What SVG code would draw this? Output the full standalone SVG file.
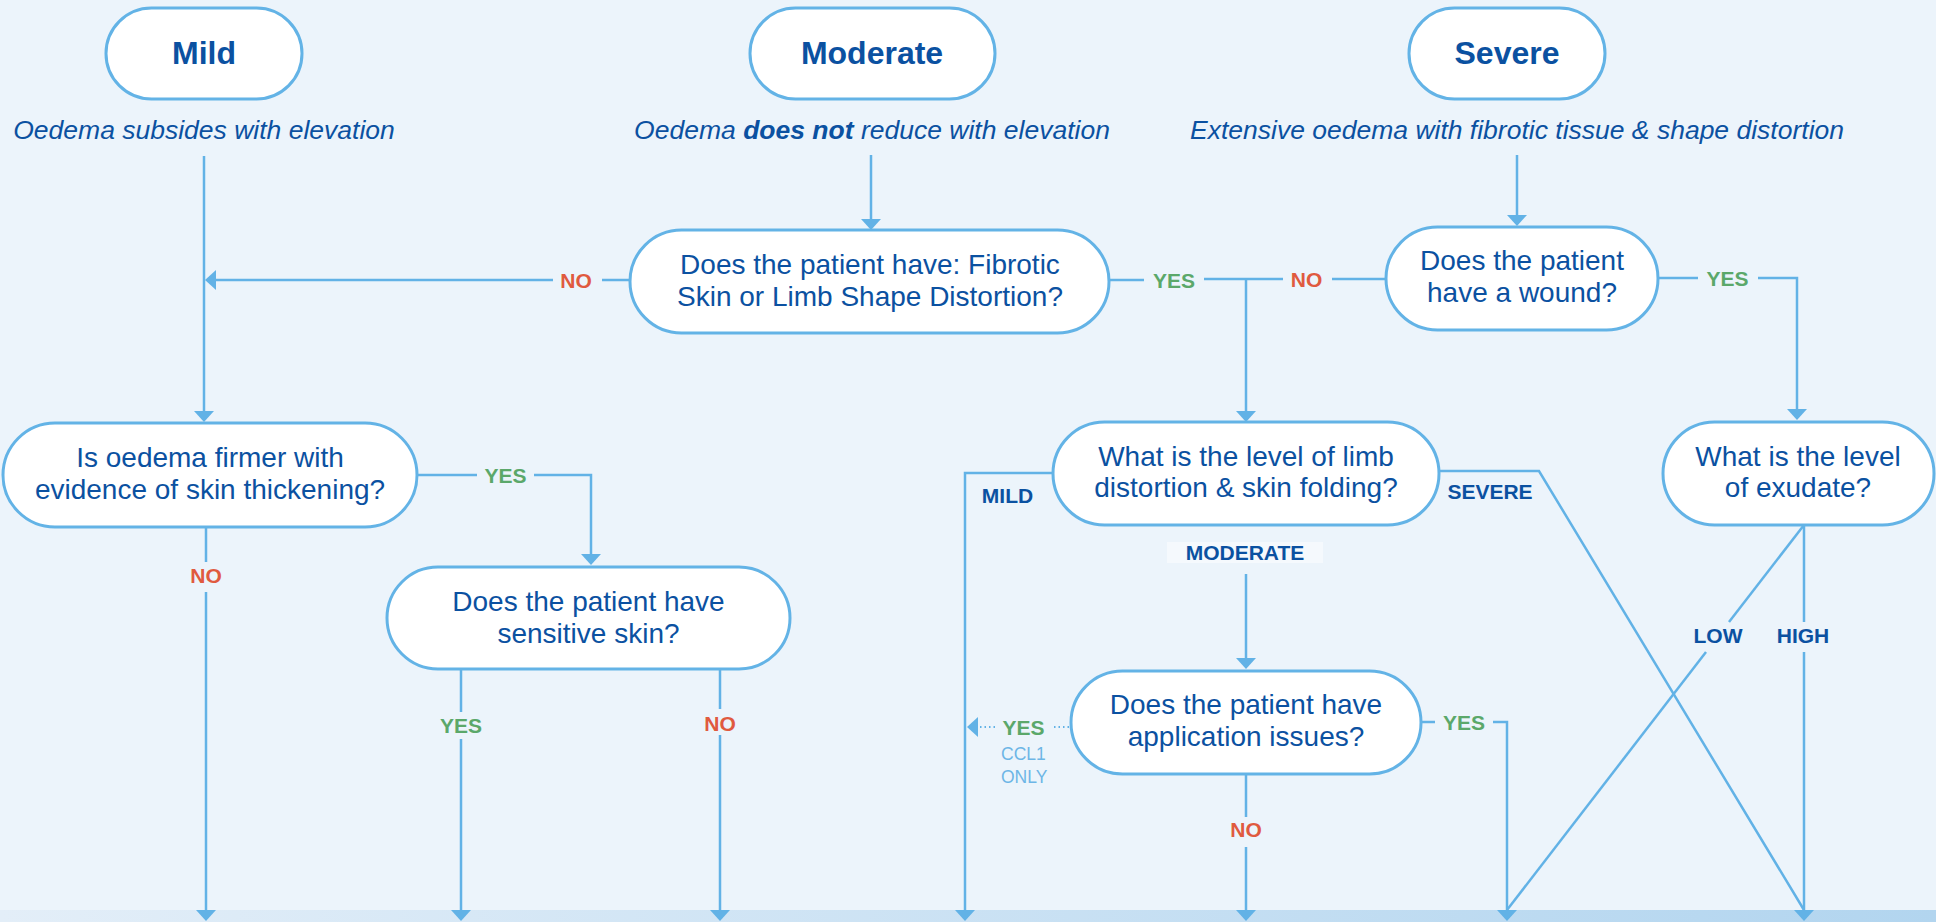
<svg xmlns="http://www.w3.org/2000/svg" width="1936" height="922" viewBox="0 0 1936 922">
<defs>
<linearGradient id="band" x1="0" y1="0" x2="1" y2="0">
<stop offset="0" stop-color="#E3EEF8"/>
<stop offset="1" stop-color="#B2D5EF"/>
</linearGradient>
<marker id="ah" viewBox="0 0 11 20" refX="3" refY="10" markerWidth="11" markerHeight="20" markerUnits="userSpaceOnUse" orient="auto">
<path d="M0,0 L11,10 L0,20 Z" fill="#62B2E6"/>
</marker>
<style>
.pill{fill:#FFFFFF;stroke:#63B3E6;stroke-width:3}
.ln{fill:none;stroke:#62B2E6;stroke-width:2.5}
.dot{fill:none;stroke:#62B2E6;stroke-width:2;stroke-dasharray:1.5 3}
.title{font-family:"Liberation Sans",Arial,sans-serif;font-size:32px;font-weight:bold;fill:#0B51A1;text-anchor:middle}
.sub{font-family:"Liberation Sans",Arial,sans-serif;font-size:26.5px;font-style:italic;fill:#0B51A1;text-anchor:middle}
.q{font-family:"Liberation Sans",Arial,sans-serif;font-size:28px;fill:#0B51A1;text-anchor:middle}
.lbl{font-family:"Liberation Sans",Arial,sans-serif;font-size:21px;font-weight:bold;text-anchor:middle}
.yes{fill:#5BA86A}
.no{fill:#E05A3F}
.lvl{fill:#0B51A1}
.small{font-family:"Liberation Sans",Arial,sans-serif;font-size:17.5px;fill:#6DB6E6}
</style>
</defs>
<rect x="0" y="0" width="1936" height="922" fill="#ECF4FB"/>
<rect x="0" y="910" width="1936" height="12" fill="url(#band)"/>

<g id="connectors">
<path class="ln" d="M204,156 V414" marker-end="url(#ah)"/>
<path class="ln" d="M630,280 H602"/>
<path class="ln" d="M553,280 H213" marker-end="url(#ah)"/>
<text class="lbl no" x="576" y="287.5">NO</text>
<path class="ln" d="M871,155 V222" marker-end="url(#ah)"/>
<path class="ln" d="M1517,155 V218" marker-end="url(#ah)"/>
<path class="ln" d="M1109,280 H1144"/>
<text class="lbl yes" x="1174" y="287.5">YES</text>
<path class="ln" d="M1204,279 H1283"/>
<text class="lbl no" x="1306.5" y="286.5">NO</text>
<path class="ln" d="M1332,279 H1386"/>
<path class="ln" d="M1246,279 V414" marker-end="url(#ah)"/>
<path class="ln" d="M1658,278 H1698"/>
<text class="lbl yes" x="1727.5" y="285.5">YES</text>
<path class="ln" d="M1758,278 H1797 V412" marker-end="url(#ah)"/>
<path class="ln" d="M417,475 H477"/>
<text class="lbl yes" x="505.5" y="482.5">YES</text>
<path class="ln" d="M534,475 H591 V557" marker-end="url(#ah)"/>
<path class="ln" d="M206,527 V562"/>
<text class="lbl no" x="206" y="583">NO</text>
<path class="ln" d="M206,592 V913" marker-end="url(#ah)"/>
<path class="ln" d="M461,669 V712"/>
<text class="lbl yes" x="461" y="733">YES</text>
<path class="ln" d="M461,739 V913" marker-end="url(#ah)"/>
<path class="ln" d="M720,669 V709"/>
<text class="lbl no" x="720" y="731">NO</text>
<path class="ln" d="M720,735 V913" marker-end="url(#ah)"/>
<path class="ln" d="M1053,473 H965 V913" marker-end="url(#ah)"/>
<text class="lbl lvl" x="1007.5" y="503">MILD</text>
<path class="ln" d="M1439,471 H1539 L1804,910"/>
<text class="lbl lvl" x="1490" y="499">SEVERE</text>
<rect x="1167" y="542" width="156" height="21" fill="#F5F9FD"/>
<text class="lbl lvl" x="1245" y="560">MODERATE</text>
<path class="ln" d="M1246,574 V661" marker-end="url(#ah)"/>
<path class="ln" d="M1246,774 V817"/>
<text class="lbl no" x="1246" y="837">NO</text>
<path class="ln" d="M1246,847 V913" marker-end="url(#ah)"/>
<path class="ln" d="M1421,722 H1435"/>
<text class="lbl yes" x="1464" y="729.5">YES</text>
<path class="ln" d="M1493,722 H1507 V913" marker-end="url(#ah)"/>
<path class="dot" d="M1069,727 H1053"/>
<text class="lbl yes" x="1023.5" y="735">YES</text>
<path class="dot" d="M995,727 H980"/>
<path class="ln" d="M977,727 H975" marker-end="url(#ah)" stroke-width="0"/>
<text class="small" x="1001" y="760">CCL1</text>
<text class="small" x="1001" y="783">ONLY</text>
<path class="ln" d="M1804,525 V622"/>
<text class="lbl lvl" x="1803" y="643">HIGH</text>
<path class="ln" d="M1804,652 V913" marker-end="url(#ah)"/>
<path class="ln" d="M1804,525 L1729,622"/>
<text class="lbl lvl" x="1718" y="643">LOW</text>
<path class="ln" d="M1706,652 L1507,910"/>
</g>

<g id="mild">
<rect class="pill" x="106" y="8" width="196" height="91" rx="45.5"/>
<text class="title" x="204" y="64">Mild</text>
<text class="sub" x="204" y="139">Oedema subsides with elevation</text>
</g>
<g id="moderate">
<rect class="pill" x="750" y="8" width="245" height="91" rx="45.5"/>
<text class="title" x="872" y="64">Moderate</text>
<text class="sub" x="872" y="139">Oedema <tspan font-weight="bold">does not</tspan> reduce with elevation</text>
</g>
<g id="severe">
<rect class="pill" x="1409" y="8" width="196" height="91" rx="45.5"/>
<text class="title" x="1507" y="64">Severe</text>
<text class="sub" x="1517" y="139">Extensive oedema with fibrotic tissue &amp; shape distortion</text>
</g>
<g id="q-fibrotic">
<rect class="pill" x="630" y="230" width="479" height="103" rx="51.5"/>
<text class="q" x="870" y="274">Does the patient have: Fibrotic</text>
<text class="q" x="870" y="306">Skin or Limb Shape Distortion?</text>
</g>
<g id="q-wound">
<rect class="pill" x="1386" y="227" width="272" height="103" rx="51.5"/>
<text class="q" x="1522" y="270">Does the patient</text>
<text class="q" x="1522" y="302">have a wound?</text>
</g>
<g id="q-firmer">
<rect class="pill" x="3" y="423" width="414" height="104" rx="52"/>
<text class="q" x="210" y="467">Is oedema firmer with</text>
<text class="q" x="210" y="499">evidence of skin thickening?</text>
</g>
<g id="q-sensitive">
<rect class="pill" x="387" y="567" width="403" height="102" rx="51"/>
<text class="q" x="588.5" y="611">Does the patient have</text>
<text class="q" x="588.5" y="643">sensitive skin?</text>
</g>
<g id="q-limb">
<rect class="pill" x="1053" y="422" width="386" height="103" rx="51.5"/>
<text class="q" x="1246" y="466">What is the level of limb</text>
<text class="q" x="1246" y="497">distortion &amp; skin folding?</text>
</g>
<g id="q-exudate">
<rect class="pill" x="1663" y="422" width="271" height="103" rx="51.5"/>
<text class="q" x="1798" y="466">What is the level</text>
<text class="q" x="1798" y="497">of exudate?</text>
</g>
<g id="q-application">
<rect class="pill" x="1071" y="671" width="350" height="103" rx="51.5"/>
<text class="q" x="1246" y="714">Does the patient have</text>
<text class="q" x="1246" y="746">application issues?</text>
</g>
</svg>
